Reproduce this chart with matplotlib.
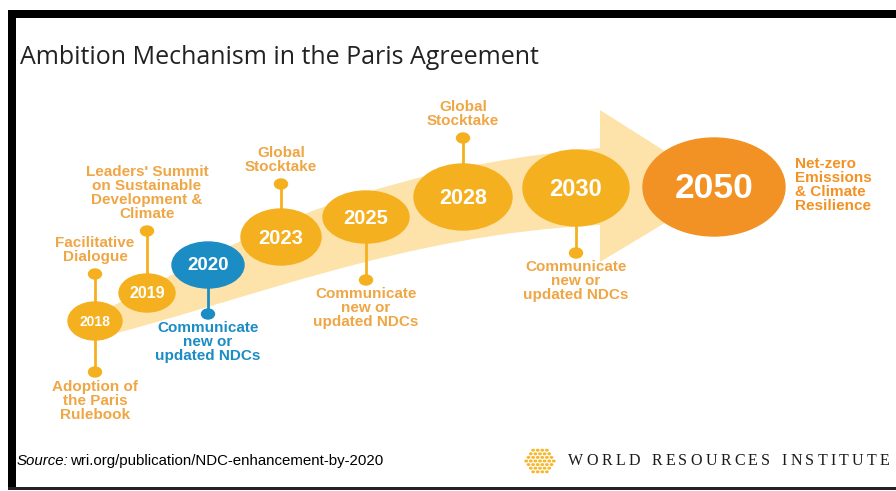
import matplotlib.pyplot as plt
from matplotlib.patches import Ellipse, PathPatch, Rectangle
from matplotlib.path import Path

# --- Milestones ---
years = ["2018", "2019", "2020", "2023", "2025", "2028", "2030", "2050"]
labels = [
    "Facilitative\nDialogue",
    "Leaders' Summit\non Sustainable\nDevelopment &\nClimate",
    "Communicate\nnew or\nupdated NDCs",
    "Global\nStocktake",
    "Communicate\nnew or\nupdated NDCs",
    "Global\nStocktake",
    "Communicate\nnew or\nupdated NDCs",
    "Net-zero\nEmissions\n& Climate\nResilience",
]
extra_label = "Adoption of\nthe Paris\nRulebook"  # second stem under 2018

# --- Layout (pixel coordinates, y down) ---
cx = [95, 147, 208, 281, 366, 463, 576, 714]
cy = [321, 293, 265, 237, 217, 197, 188, 187]
rx = [27, 28, 36, 40, 43, 49, 53, 71]
ry = [19, 19, 23, 28, 26, 33, 38, 49]
year_size = [10, 11.5, 13.5, 14.5, 14.5, 15.5, 17, 25.5]
stem_dir = ["up", "up", "down", "up", "down", "up", "down", None]
dot_y = [274, 231, 314, 184, 280, 138, 253, None]

GOLD = "#F5B01F"
BLUE = "#1C8CC4"
ORANGE = "#F39224"
BAND = "#FDE3AA"
LABEL = "#EFA645"
circle_col = [GOLD, GOLD, BLUE, GOLD, GOLD, GOLD, GOLD, ORANGE]
text_col = [LABEL, LABEL, BLUE, LABEL, LABEL, LABEL, LABEL, ORANGE]

W, H = 896, 491
fig = plt.figure(figsize=(W / 100, H / 100), dpi=100)
ax = fig.add_axes([0, 0, 1, 1])
ax.set_xlim(0, W)
ax.set_ylim(H, 0)
ax.axis("off")

# frame
ax.add_patch(Rectangle((8, 10), W, 8, color="black", lw=0))
ax.add_patch(Rectangle((8, 10), 8, 480, color="black", lw=0))
ax.add_patch(Rectangle((8, 487), W, 3, color="#222222", lw=0))

ax.text(20, 57, "Ambition Mechanism in the Paris Agreement", fontsize=18,
        family="Open Sans", color="#222222", va="center", ha="left")

# curved arrow band behind the milestones
verts = [(90, 318), (220, 250), (350, 170), (600, 148),
         (600, 110), (723, 188), (600, 262), (600, 225),
         (400, 235), (250, 300), (90, 340), (90, 318)]
codes = [Path.MOVETO, Path.CURVE4, Path.CURVE4, Path.CURVE4,
         Path.LINETO, Path.LINETO, Path.LINETO, Path.LINETO,
         Path.CURVE4, Path.CURVE4, Path.CURVE4, Path.CLOSEPOLY]
ax.add_patch(PathPatch(Path(verts, codes), facecolor=BAND, edgecolor="none"))

lab_font = dict(family="Liberation Sans", fontweight="bold", fontsize=11,
                ha="center", linespacing=1.0)

for i, yr in enumerate(years):
    col = circle_col[i]
    if stem_dir[i] is not None:
        edge = cy[i] - ry[i] if stem_dir[i] == "up" else cy[i] + ry[i]
        ax.plot([cx[i], cx[i]], [edge, dot_y[i]], color=col, lw=2, zorder=2)
        ax.add_patch(Ellipse((cx[i], dot_y[i]), 13, 10, color=col, zorder=3))
        if stem_dir[i] == "up":
            ax.text(cx[i], dot_y[i] - 10, labels[i], va="bottom",
                    color=text_col[i], **lab_font)
        else:
            ax.text(cx[i], dot_y[i] + 7, labels[i], va="top",
                    color=text_col[i], **lab_font)
    ax.add_patch(Ellipse((cx[i], cy[i]), 2 * rx[i], 2 * ry[i], color=col, zorder=4))
    ax.text(cx[i], cy[i] + 1, yr, color="white", fontsize=year_size[i],
            fontweight="bold", family="Liberation Sans",
            ha="center", va="center", zorder=5)

# second stem under 2018
ax.plot([cx[0], cx[0]], [cy[0] + ry[0], 372], color=GOLD, lw=2, zorder=2)
ax.add_patch(Ellipse((cx[0], 372), 13, 10, color=GOLD, zorder=3))
ax.text(cx[0], 380, extra_label, va="top", color=LABEL, **lab_font)

# 2050 outcome
ax.text(795, 185, labels[-1], va="center", ha="left", color=ORANGE,
        family="Liberation Sans", fontweight="bold", fontsize=11,
        linespacing=1.0)

# footer
foot = ["Liberation Sans Narrow", "Liberation Sans"]
ax.text(17, 461, "Source:", style="italic", fontsize=10.8, family=foot,
        va="center")
ax.text(70, 461, "wri.org/publication/NDC-enhancement-by-2020", fontsize=10.8,
        family=foot, va="center")

# WRI mark: lattice of small dots
for row in range(-3, 4):
    n = 4 - abs(row)
    for k in range(n + 3):
        x = 540 + (k - (n + 2) / 2) * 4.6
        y = 461 + row * 3.6
        ax.add_patch(Ellipse((x, y), 3.8, 3.0, color="#F5B82E", lw=0))

# letter-spaced institute name
fig.canvas.draw()
r = fig.canvas.get_renderer()
x = 568
for ch in "WORLD RESOURCES INSTITUTE":
    t = ax.text(x, 461, ch, family="Liberation Serif", fontsize=11.5,
                color="#1a1a1a", va="center", ha="left")
    wpx = t.get_window_extent(r).width if ch != " " else 5
    x += wpx + 3.3

fig.savefig("out.png", dpi=100, facecolor="white")
